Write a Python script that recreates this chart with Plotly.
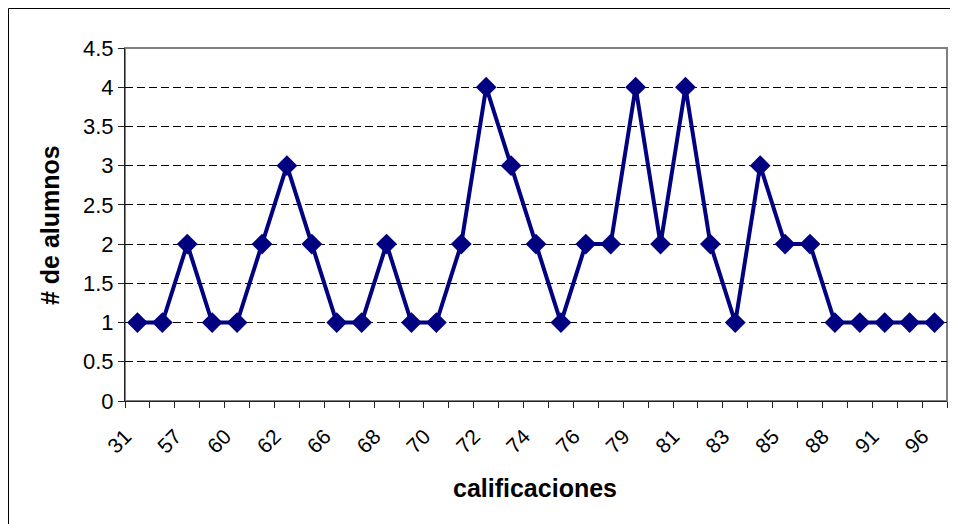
import plotly.graph_objects as go

# Data
calificaciones = ["31", "50", "57", "59", "60", "61", "62", "64", "66", "67", "68",
                  "69", "70", "71", "72", "73", "74", "75", "76", "78", "79", "80",
                  "81", "82", "83", "84", "85", "86", "88", "90", "91", "93", "96"]
alumnos = [1, 1, 2, 1, 1, 2, 3, 2, 1, 1, 2,
           1, 1, 2, 4, 3, 2, 1, 2, 2, 4, 2,
           4, 2, 1, 3, 2, 2, 1, 1, 1, 1, 1]
y_ticks = [0, 0.5, 1, 1.5, 2, 2.5, 3, 3.5, 4, 4.5]

pos = list(range(len(calificaciones)))
label_pos = pos[::2]
label_txt = calificaciones[::2]

FONT = "Arial, Liberation Sans, sans-serif"
OFF = 8  # page body margin

W, H = 958, 524
L, T = 125 - OFF, 48 - OFF
R = W - (947 - OFF)
B = H - (401 - OFF)
pw, ph = W - L - R, H - T - B


def px(x):
    return (x - OFF - L) / pw


def py(y):
    return (H - B - (y - OFF)) / ph


fig = go.Figure()
fig.add_trace(go.Scatter(
    x=pos, y=alumnos, mode="lines+markers",
    line=dict(color="#000080", width=4),
    marker=dict(symbol="diamond", size=16, color="#000080"),
    showlegend=False,
))

fig.update_layout(
    width=W, height=H,
    margin=dict(l=L, r=R, t=T, b=B, autoexpand=False),
    paper_bgcolor="white", plot_bgcolor="white",
    font=dict(family=FONT, color="black", size=22),
    xaxis=dict(
        range=[-0.5, len(pos) - 0.5],
        tickmode="array", tickvals=label_pos, ticktext=label_txt,
        tickangle=-45, ticks="", showgrid=False, zeroline=False,
        showline=True, linecolor="#222222", linewidth=1,
        tickfont=dict(size=21),
        ticklabelstandoff=14, ticklabelshift=-12,
        minor=dict(tick0=-0.5, dtick=1, ticks="outside", ticklen=6,
                   tickcolor="#222222", tickwidth=1, showgrid=False),
        automargin=False,
    ),
    yaxis=dict(
        range=[0, 4.5], tickmode="array", tickvals=y_ticks,
        ticks="outside", ticklen=6, tickcolor="#222222",
        showline=True, linecolor="#222222", linewidth=1,
        showgrid=True, gridcolor="black", gridwidth=1, griddash="8px,4px",
        zeroline=False, tickfont=dict(size=22), automargin=False,
    ),
    shapes=[
        dict(type="rect", xref="paper", yref="paper", x0=0, x1=1, y0=0, y1=1,
             line=dict(color="#808080", width=2), layer="below"),
        dict(type="rect", xref="paper", yref="paper",
             x0=px(OFF + 0.5), x1=px(980),
             y0=py(560), y1=py(OFF + 0.5),
             line=dict(color="black", width=1)),
    ],
    annotations=[
        dict(text="# de alumnos", xref="paper", yref="paper",
             x=px(50), y=py(225), showarrow=False,
             textangle=-90, font=dict(size=25, family=FONT, weight="bold"),
             xanchor="center", yanchor="middle"),
        dict(text="calificaciones", xref="paper", yref="paper",
             x=px(535), y=py(488), showarrow=False,
             font=dict(size=25, family=FONT, weight="bold"),
             xanchor="center", yanchor="middle"),
    ],
)

fig.write_html("out.html")
